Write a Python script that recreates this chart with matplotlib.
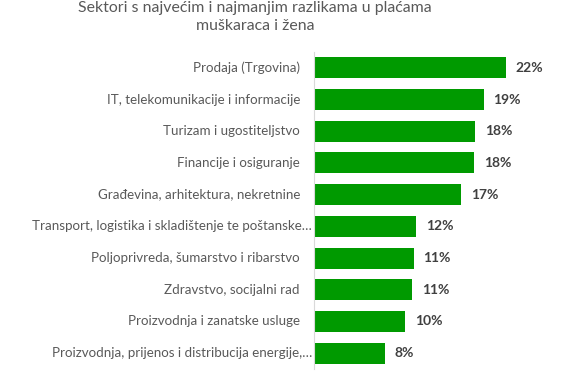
import matplotlib.pyplot as plt
from matplotlib.transforms import offset_copy

plt.rcParams['font.family'] = ['Lato', 'DejaVu Sans']

sektori = [
    'Prodaja (Trgovina)',
    'IT, telekomunikacije i informacije',
    'Turizam i ugostiteljstvo',
    'Financije i osiguranje',
    'Građevina, arhitektura, nekretnine',
    'Transport, logistika i skladištenje te poštanske…',
    'Poljoprivreda, šumarstvo i ribarstvo',
    'Zdravstvo, socijalni rad',
    'Proizvodnja i zanatske usluge',
    'Proizvodnja, prijenos i distribucija energije,…',
]
razlika = [21.9, 19.4, 18.4, 18.3, 16.8, 11.7, 11.4, 11.2, 10.4, 8.1]

fig = plt.figure(figsize=(5.75, 3.74), dpi=100)
ax = fig.add_axes([314 / 575, 5 / 374, 244 / 575, 317 / 374])

y = list(range(len(sektori)))
ax.barh(y, razlika, height=0.66, color='#009A00')
ax.set_xlim(0, 244 / 8.76)
ax.set_ylim(len(sektori) - 0.5, -0.5)

for s in ['top', 'right', 'bottom']:
    ax.spines[s].set_visible(False)
ax.spines['left'].set_color('#d9d9d9')
ax.set_xticks([])
ax.set_yticks([])

for i, (name, v) in enumerate(zip(sektori, razlika)):
    dx = -2 if name.endswith('…') else -14
    tr = offset_copy(ax.transData, fig=fig, x=dx, y=0, units='dots')
    ax.text(0, i, name, transform=tr, ha='right', va='center',
            fontsize=9.6, color='#595959')
    ax.text(v + 1.1, i, f'{v:.0f}%', ha='left', va='center',
            fontsize=10, fontweight='bold', color='#404040')

fig.text(255 / 575, 1 - 1 / 374,
         'Sektori s najvećim i najmanjim razlikama u plaćama\nmuškaraca i žena',
         ha='center', va='top', fontsize=11.4, color='#595959', linespacing=1.4)

fig.savefig('out.png', dpi=100)
